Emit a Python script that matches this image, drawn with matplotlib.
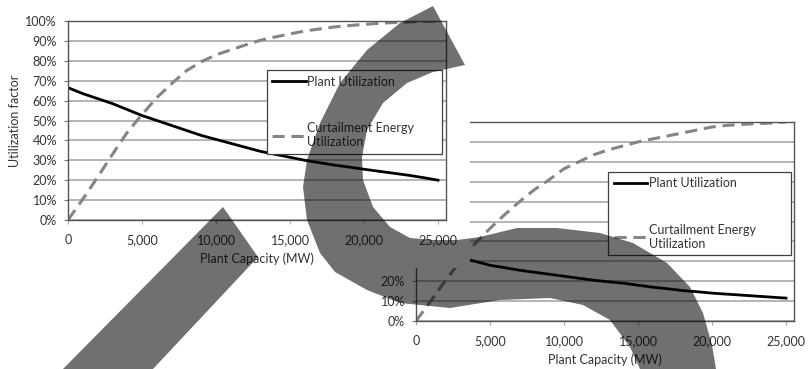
import matplotlib
matplotlib.use("Agg")
import matplotlib.pyplot as plt
from matplotlib.patches import Rectangle, Polygon
from matplotlib.ticker import FuncFormatter

plt.rcParams["font.family"] = ["Lato", "DejaVu Sans"]

# plant capacity in MW
capacity = [0, 1000, 2000, 3000, 4000, 5000, 6000, 7000, 8000, 9000, 10000,
            11000, 12000, 13000, 14000, 15000, 16000, 17000, 18000, 19000,
            20000, 21000, 22000, 23000, 24000, 25000]

# case 1 (upper chart), utilization in %
plant_util_1 = [66.5, 63.5, 61, 58.5, 55.5, 52.5, 50, 47.5, 45, 42.5, 40.5,
                38.5, 36.5, 34.5, 33, 31.5, 30, 28.8, 27.6, 26.6, 25.5,
                24.5, 23.5, 22.5, 21.3, 20]
curtail_util_1 = [0, 10.5, 21.5, 33, 44, 53, 61.5, 68.5, 75, 79.5, 83,
                  85.5, 88, 90.3, 92, 93.5, 95, 96, 97, 97.7, 98.3,
                  98.8, 99.2, 99.5, 99.8, 100]

# case 2 (lower chart)
plant_util_2 = [36, 34.5, 33, 31.5, 30, 28, 26.8, 25.5, 24.5, 23.5, 22.5,
                21.5, 20.5, 19.7, 19, 18, 17, 16.2, 15.3, 14.7, 14,
                13.5, 13, 12.5, 12, 11.5]
curtail_util_2 = [0, 10, 20.5, 30, 39, 46.5, 53.5, 60, 66, 71, 76.5,
                  80, 83.5, 86, 88, 90, 91.5, 93, 94.5, 96, 97.5,
                  98.3, 98.8, 99.2, 99.5, 100]

x_ticks = [0, 5000, 10000, 15000, 20000, 25000]
y_ticks = [0, 10, 20, 30, 40, 50, 60, 70, 80, 90, 100]

W, H = 808, 369
TEXT = "#333333"
FS = 9


def px_box(left, top, right, bottom):
    return [left / W, 1 - bottom / H, (right - left) / W, (bottom - top) / H]


def px_points(pts):
    return [(x / W, 1 - y / H) for x, y in pts]


def draw_chart(ax, plant, curtail, legend_box):
    ax.plot(capacity, plant, color="black", lw=2.0, label="Plant Utilization")
    ax.plot(capacity, curtail, color="#858585", lw=2.2, dashes=(4, 2.2),
            label="Curtailment Energy\nUtilization")
    ax.set_xlim(0, 25540)
    ax.set_ylim(0, 100)
    ax.set_xticks(x_ticks)
    ax.set_yticks(y_ticks)
    ax.xaxis.set_major_formatter(FuncFormatter(lambda v, _: f"{int(v):,}"))
    ax.yaxis.set_major_formatter(FuncFormatter(lambda v, _: f"{int(v)}%"))
    ax.grid(axis="y", color="#a8a8a8", lw=1.2)
    ax.set_axisbelow(True)
    for s in ax.spines.values():
        s.set_color("#555555")
        s.set_linewidth(1.0)
    ax.tick_params(axis="y", length=3, width=0.8, color="#777777", pad=5,
                   labelsize=FS, labelcolor=TEXT)
    ax.tick_params(axis="x", length=3, width=0.8, color="#aaaaaa", pad=7,
                   labelsize=FS, labelcolor=TEXT)
    ax.set_xlabel("Plant Capacity (MW)", fontsize=FS, color=TEXT, labelpad=5)
    ax.set_ylabel("Utilization factor", fontsize=FS, color=TEXT)
    ax.yaxis.set_label_coords(-0.125, 0.5)
    leg = ax.legend(loc="upper left", bbox_to_anchor=legend_box,
                    mode="expand", fancybox=False, framealpha=1,
                    edgecolor="#404040", borderpad=0.45, labelspacing=2.75,
                    handlelength=2.7, handletextpad=0.1, borderaxespad=0,
                    fontsize=FS)
    leg.get_frame().set_linewidth(0.9)
    for t in leg.get_texts():
        t.set_color(TEXT)


fig = plt.figure(figsize=(W / 100, H / 100), dpi=100)

ax2 = fig.add_axes(px_box(416, 122, 794, 321))
ax2.set_zorder(1)
draw_chart(ax2, plant_util_2, curtail_util_2, (0.508, 0.32, 0.484, 0.43))

# the upper chart sits on an opaque white chart area
fig.add_artist(Rectangle((0, 1 - 268 / H), 470 / W, 268 / H,
                         transform=fig.transFigure, facecolor="white",
                         edgecolor="none", zorder=2))

ax1 = fig.add_axes(px_box(68, 21, 446, 220))
ax1.set_zorder(3)
draw_chart(ax1, plant_util_1, curtail_util_1, (0.526, 0.342, 0.463, 0.412))

# translucent brush strokes across the figure
stroke_a = [(223, 207), (258, 257), (153, 369), (63, 369)]
stroke_b = [(433, 6), (400, 23), (367, 50), (340, 83), (320, 123), (307, 160),
            (303, 187), (307, 220), (320, 253), (335, 272), (367, 290),
            (400, 303), (450, 308), (500, 300), (550, 298), (583, 305),
            (610, 320), (630, 347), (640, 369), (716, 369), (712, 345),
            (703, 313), (690, 287), (667, 263), (633, 243), (600, 233),
            (557, 228), (517, 228), (480, 237), (457, 240), (433, 240),
            (410, 238), (390, 227), (373, 207), (363, 180), (362, 157),
            (367, 130), (383, 103), (407, 83), (433, 72), (465, 65)]
for pts in (stroke_a, stroke_b):
    fig.add_artist(Polygon(px_points(pts), closed=True, transform=fig.transFigure,
                           facecolor="black", edgecolor="none", alpha=0.56,
                           zorder=10))

fig.savefig("out.png", dpi=100, facecolor="white")
